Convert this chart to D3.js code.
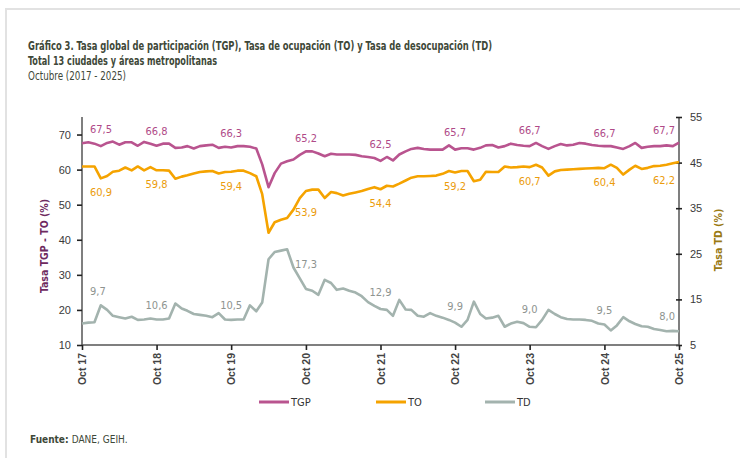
<!DOCTYPE html>
<html>
<head>
<meta charset="utf-8">
<script src="https://cdn.jsdelivr.net/npm/d3@7"></script>
<style>
  body { margin: 0; background: #fff; }
  svg { display: block; font-family: "Liberation Sans Narrow", "DejaVu Sans Condensed", "Roboto", sans-serif; }
</style>
</head>
<body>
<div id="chart"></div>
<script>
// Tasa global de participacion, ocupacion y desocupacion - 13 ciudades (monthly, Oct 2017 - Oct 2025)
const tickLabels = ["Oct 17", "Oct 18", "Oct 19", "Oct 20", "Oct 21", "Oct 22", "Oct 23", "Oct 24", "Oct 25"];

const tgp = [
  67.5, 67.8, 67.4, 66.7, 67.6, 68.0, 67.1, 67.8, 67.8, 66.8, 67.9, 67.4,
  66.8, 67.4, 67.4, 66.2, 66.3, 66.7, 66.0, 66.7, 66.9, 67.1, 66.2, 66.5,
  66.3, 66.7, 66.7, 66.5, 66.0, 61.5, 55.0, 59.0, 61.7, 62.4, 62.9, 64.2,
  65.2, 65.2, 64.6, 63.8, 64.5, 64.3, 64.3, 64.3, 64.2, 63.8, 63.6, 63.3,
  62.5, 63.6, 62.6, 64.3, 65.2, 65.9, 66.2, 65.9, 65.7, 65.7, 65.7, 66.9,
  65.7, 66.1, 66.1, 65.7, 66.2, 66.9, 67.0, 66.3, 66.7, 67.4, 67.0, 66.8,
  66.7, 67.6, 66.7, 65.9, 66.7, 67.3, 66.9, 67.1, 67.6, 67.4, 67.0, 66.8,
  66.7, 66.7, 66.3, 65.9, 66.7, 67.6, 66.2, 66.5, 66.7, 66.7, 66.9, 66.7,
  67.7
];

const to = [
  60.9, 60.9, 60.9, 57.5, 58.2, 59.4, 59.7, 60.6, 59.8, 60.9, 59.8, 60.7,
  59.8, 59.8, 59.7, 57.4, 58.0, 58.4, 58.9, 59.3, 59.5, 59.6, 58.9, 59.3,
  59.4, 59.7, 59.7, 59.0, 58.1, 53.0, 42.0, 45.0, 45.7, 46.2, 48.6, 51.9,
  53.9, 54.3, 54.3, 51.9, 53.6, 53.3, 52.6, 53.1, 53.5, 53.9, 54.5, 55.0,
  54.4, 55.4, 55.2, 56.0, 56.9, 57.7, 58.1, 58.1, 58.2, 58.3, 58.8, 59.6,
  59.2, 59.6, 59.6, 56.7, 57.1, 59.4, 59.3, 59.3, 60.9, 60.6, 60.7, 60.9,
  60.7, 61.4, 60.6, 58.3, 59.5, 59.9, 60.0, 60.1, 60.2, 60.3, 60.4, 60.5,
  60.4, 61.4, 60.5, 58.6, 60.0, 61.1, 60.2, 60.5, 61.0, 61.1, 61.4, 61.8,
  62.2
];

const td = [
  9.7, 9.9, 10.0, 13.7, 12.7, 11.4, 11.1, 10.8, 11.2, 10.5, 10.6, 10.8,
  10.6, 10.6, 10.8, 14.1, 13.0, 12.5, 11.8, 11.6, 11.4, 11.1, 12.0, 10.6,
  10.5, 10.6, 10.6, 13.7, 12.4, 14.3, 23.8, 25.4, 25.7, 26.0, 22.0, 19.6,
  17.3, 16.9, 16.0, 19.3, 18.6, 17.1, 17.4, 16.9, 16.5, 15.7, 14.4, 13.6,
  12.9, 12.7, 11.4, 14.9, 12.8, 12.7, 11.4, 11.2, 12.0, 11.4, 11.0, 10.5,
  9.9, 9.0, 10.5, 14.5, 11.8, 10.8, 11.0, 11.4, 9.0, 9.7, 10.1, 9.8,
  9.0, 8.9, 10.5, 12.7, 11.8, 11.1, 10.7, 10.6, 10.6, 10.5, 10.3, 9.7,
  9.5, 8.2, 9.3, 11.1, 10.2, 9.6, 9.1, 9.0, 8.5, 8.3, 8.0, 8.1,
  8.0
];

const leftTicks = [10, 20, 30, 40, 50, 60, 70];
const rightTicks = [5, 15, 25, 35, 45, 55];

document.addEventListener('DOMContentLoaded', function() {
  const W = 740, H = 458;
  const left = 82, right = 679, top = 117, bottom = 345;

  const months = d3.timeMonth.range(new Date(2017, 9, 1), new Date(2025, 10, 1));
  const last = months.length - 1;
  const octIdx = d3.range(0, months.length, 12);
  const fmt = d3.formatLocale({decimal: ",", thousands: ".", grouping: [3], currency: ["$", ""]}).format(".1f");

  const svg = d3.select("#chart").append("svg")
    .attr("width", W)
    .attr("height", H);

  // frame (only top/left edges visible)
  svg.append("rect")
    .attr("x", 6).attr("y", 9)
    .attr("width", 760).attr("height", 470)
    .attr("fill", "none")
    .attr("stroke", "#e2e2e2")
    .attr("stroke-width", 2);

  // titles
  const titleColor = "#3e4838";
  const titles = [
    {t: "Gráfico 3. Tasa global de participación (TGP), Tasa de ocupación (TO) y Tasa de desocupación (TD)", y: 50, w: "bold", len: 464},
    {t: "Total 13 ciudades y áreas metropolitanas", y: 65, w: "bold", len: 189},
    {t: "Octubre (2017 - 2025)", y: 80, w: "normal", len: 98}
  ];
  svg.selectAll(".title").data(titles).enter().append("text")
    .attr("class", "title")
    .attr("x", 28)
    .attr("y", d => d.y)
    .attr("font-size", 12)
    .attr("font-weight", d => d.w)
    .attr("fill", titleColor)
    .attr("textLength", d => d.len)
    .attr("lengthAdjust", "spacingAndGlyphs")
    .text(d => d.t);

  const x = d3.scaleTime()
    .domain([months[0], months[last]])
    .range([left, right]);
  const yL = d3.scaleLinear().domain([10, 75]).range([bottom, top]);
  const yR = d3.scaleLinear().domain([5, 55]).range([bottom, top]);

  // axes
  const axisColor = "#555";
  const gL = svg.append("g")
    .attr("transform", "translate(" + left + ",0)")
    .call(d3.axisLeft(yL).tickValues(leftTicks).tickSize(5).tickPadding(6).tickSizeOuter(0));
  gL.select(".domain").attr("d", "M0," + top + "V" + bottom);

  const gR = svg.append("g")
    .attr("transform", "translate(" + right + ",0)")
    .call(d3.axisRight(yR).tickValues(rightTicks).tickSize(3).tickPadding(8).tickSizeOuter(0));
  gR.selectAll(".tick line").attr("x1", -3);
  gR.select(".domain").attr("d", "M0," + top + "V" + bottom);

  const octDates = octIdx.map(i => months[i]);
  const gX = svg.append("g")
    .attr("transform", "translate(0," + bottom + ")")
    .call(d3.axisBottom(x).tickValues(octDates).tickFormat((d, i) => tickLabels[i]).tickSize(5).tickSizeOuter(0));
  gX.select(".domain").attr("d", "M" + left + ",0H" + right);
  gX.selectAll(".tick text")
    .attr("transform", "rotate(-90)")
    .attr("text-anchor", "end")
    .attr("x", -8)
    .attr("y", 0)
    .attr("dy", "0.35em");

  [gL, gR, gX].forEach(g => {
    g.selectAll(".domain").attr("stroke", axisColor).attr("stroke-width", 1.5);
    g.selectAll(".tick line").attr("stroke", "#222").attr("stroke-width", 1.6);
    g.selectAll(".tick text").attr("fill", "#3a3a3a").attr("font-size", 11).attr("font-family", "inherit");
  });
  gX.selectAll(".tick text").attr("font-size", 10.5).attr("font-weight", "bold").attr("fill", "#444");

  // axis titles
  svg.append("text")
    .attr("transform", "translate(48," + 246 + ") rotate(-90)")
    .attr("text-anchor", "middle")
    .attr("font-size", 10.5)
    .attr("font-weight", "bold")
    .attr("fill", "#6e2a5f")
    .text("Tasa TGP - TO (%)");
  svg.append("text")
    .attr("transform", "translate(722," + 240 + ") rotate(-90)")
    .attr("text-anchor", "middle")
    .attr("font-size", 10.5)
    .attr("font-weight", "bold")
    .attr("fill", "#9a7a14")
    .text("Tasa TD (%)");

  // above: label sits over the line, below: under it
  const series = [
    {name: "TGP", values: tgp, y: yL, color: "#b9548f", labelColor: "#b04a88", dy: -9, above: true},
    {name: "TO", values: to, y: yL, color: "#f5a300", labelColor: "#eb9c0c", dy: 18, above: false},
    {name: "TD", values: td, y: yR, color: "#a3b3ae", labelColor: "#8e9490", dy: -10, above: true}
  ];

  // months covered by a label (first label starts at the point, last one ends there)
  const span = (i) => i === 0 ? d3.range(0, 5) : (i === last ? d3.range(last - 3, last + 1) : [i - 1, i, i + 1]);

  series.forEach(s => {
    const line = d3.line()
      .x((d, i) => x(months[i]))
      .y(d => s.y(d));

    svg.append("path")
      .datum(s.values)
      .attr("fill", "none")
      .attr("stroke", s.color)
      .attr("stroke-width", 2.6)
      .attr("stroke-linejoin", "round")
      .attr("d", line);

    // value labels at each October
    svg.append("g").selectAll("text")
      .data(octIdx)
      .enter().append("text")
      .attr("x", i => x(months[i]) + (i === 0 ? 8 : (i === last ? -4 : 0)))
      .attr("y", i => {
        const ys = span(i).map(j => s.y(s.values[j]));
        return (s.above ? d3.min(ys) : d3.max(ys)) + s.dy;
      })
      .attr("text-anchor", i => i === 0 ? "start" : (i === last ? "end" : "middle"))
      .attr("font-size", 11)
      .attr("fill", s.labelColor)
      .text(i => fmt(s.values[i]));
  });

  // legend
  const legendX = [259, 376, 485];
  const lg = svg.append("g").selectAll("g")
    .data(series)
    .enter().append("g")
    .attr("transform", (d, i) => "translate(" + legendX[i] + ",402)");
  lg.append("line")
    .attr("x1", 0).attr("x2", 30)
    .attr("stroke", d => d.color)
    .attr("stroke-width", 3);
  lg.append("text")
    .attr("x", 32)
    .attr("dy", "0.35em")
    .attr("font-size", 11)
    .attr("fill", "#333")
    .text(d => d.name);

  // source
  const src = svg.append("text")
    .attr("x", 30)
    .attr("y", 443)
    .attr("font-size", 10)
    .attr("fill", "#3e4838");
  src.append("tspan").attr("font-weight", "bold").text("Fuente: ");
  src.append("tspan").text("DANE, GEIH.");
});
</script>
</body>
</html>
